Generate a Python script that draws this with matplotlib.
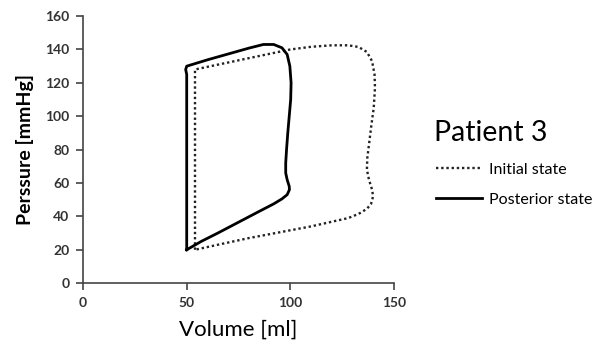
import matplotlib.pyplot as plt

plt.rcParams['font.family'] = ['Lato', 'DejaVu Sans']

# pressure-volume loops, volume in ml and pressure in mmHg
vol_initial = [54, 54, 60, 70, 80, 90, 100, 110, 120, 128, 133, 137, 139.5, 140.7, 140.9,
               140.3, 139.2, 138.2, 137.2, 137, 138, 139.5, 140, 139, 137, 133, 128,
               110, 95, 80, 65, 54]
pres_initial = [20, 128, 129.6, 132.2, 134.8, 137.4, 140, 141.6, 142.5, 142.5, 141.5, 138.5, 133, 125, 117,
                105, 95, 85, 75, 68, 62, 56, 52, 47.5, 44.5, 41.5, 39,
                34, 30.5, 27, 23, 20]

vol_posterior = [50, 50, 49.5, 50, 60, 70, 80, 87, 92, 96, 98.5, 99.8, 100.4, 100.2,
                 99.5, 98.8, 98.2, 97.8, 97.8, 98.5, 99.5, 99.6, 98.5, 96, 92, 85,
                 75, 65, 57, 50]
pres_posterior = [20, 125, 128, 130, 133.8, 137.3, 140.8, 143, 143, 141, 137, 130, 120, 110,
                  100, 90, 80, 72, 66, 62, 58, 56, 53, 50.5, 47.5, 43,
                  36.5, 30, 25, 20]

x_ticks = [0, 50, 100, 150]
y_ticks = [0, 20, 40, 60, 80, 100, 120, 140, 160]

fig = plt.figure(figsize=(5.94, 3.5), dpi=100)
ax = fig.add_axes([0.14, 0.191, 0.523, 0.763])

ax.plot(vol_initial, pres_initial, color='#222222', lw=1.7, linestyle=(0, (1, 1.2)),
        label='Initial state')
ax.plot(vol_posterior, pres_posterior, color='black', lw=2.0, label='Posterior state')

ax.set_xlim(0, 150)
ax.set_ylim(0, 160)
ax.set_xticks(x_ticks)
ax.set_yticks(y_ticks)
ax.spines['top'].set_visible(False)
ax.spines['right'].set_visible(False)
for s in ['left', 'bottom']:
    ax.spines[s].set_color('#444444')
    ax.spines[s].set_linewidth(1.2)
ax.tick_params(direction='out', length=5, width=1.2, color='#444444',
               labelsize=10, labelcolor='#333333', pad=5)
for lbl in ax.get_xticklabels() + ax.get_yticklabels():
    lbl.set_fontweight('bold')

ax.set_xlabel('Volume [ml]', fontsize=16, labelpad=8)
ax.set_ylabel('Perssure [mmHg]', fontsize=14, fontweight='bold', labelpad=8)

fig.text(0.731, 0.62, 'Patient 3', fontsize=20.5, va='center', ha='left')
ax.legend(loc='upper left', bbox_to_anchor=(1.09, 0.505), frameon=False, fontsize=11.5,
          handlelength=2.9, labelspacing=1.0, handletextpad=0.4)

fig.savefig('out.png', dpi=100)
